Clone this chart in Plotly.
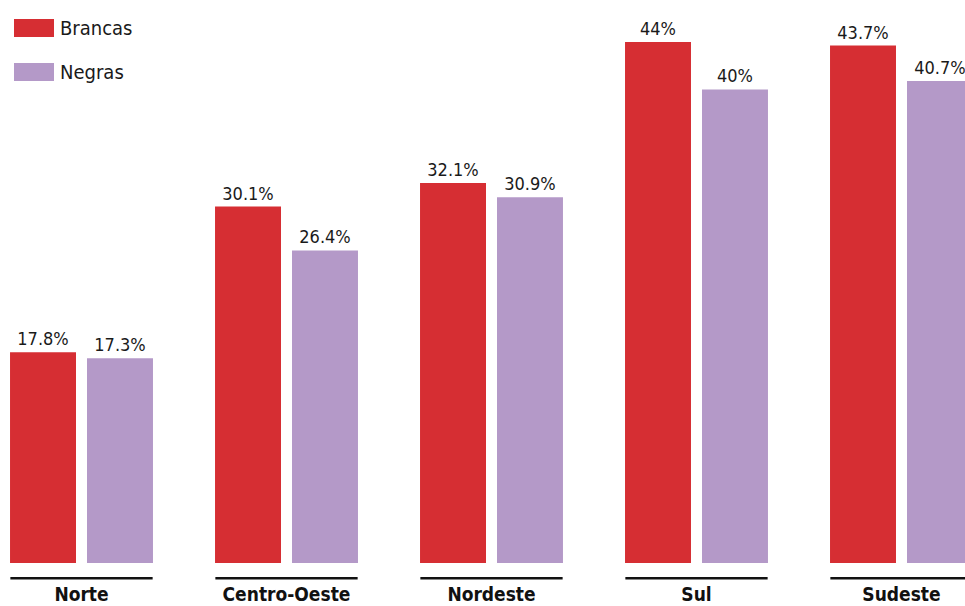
import plotly.graph_objects as go

regions = ["Norte", "Centro-Oeste", "Nordeste", "Sul", "Sudeste"]
brancas = [17.8, 30.1, 32.1, 44.0, 43.7]
negras = [17.3, 26.4, 30.9, 40.0, 40.7]
brancas_labels = ["17.8%", "30.1%", "32.1%", "44%", "43.7%"]
negras_labels = ["17.3%", "26.4%", "30.9%", "40%", "40.7%"]
series_names = ["Brancas", "Negras"]
colors = ["#D62E33", "#B499C8"]

FONT = "DejaVu Sans Condensed"
xs = list(range(len(regions)))

fig = go.Figure()
for name, vals, labels, col in [(series_names[0], brancas, brancas_labels, colors[0]),
                                (series_names[1], negras, negras_labels, colors[1])]:
    fig.add_trace(go.Bar(
        x=xs, y=vals, name=name, marker=dict(color=col, line=dict(width=0)),
        text=labels, textposition="outside", cliponaxis=False,
        textfont=dict(family=FONT, size=18, color="#1a1a1a"),
        showlegend=False, hoverinfo="skip",
    ))

# underline below each category
for i in xs:
    fig.add_shape(type="line", xref="x", yref="paper", x0=i - 0.347, x1=i + 0.347,
                  y0=-0.027, y1=-0.027, line=dict(color="#111111", width=2.5))

# custom legend
for k, (name, col) in enumerate(zip(series_names, colors)):
    yc = 1 - (28 + 44 * k) / 563
    fig.add_shape(type="rect", xref="paper", yref="paper",
                  x0=14 / 965, x1=54 / 965, y0=yc - 9 / 563, y1=yc + 9 / 563,
                  fillcolor=col, line=dict(width=0))
    fig.add_annotation(xref="paper", yref="paper", x=58 / 965, y=yc, text=name,
                       showarrow=False, xanchor="left", yanchor="middle",
                       font=dict(family=FONT, size=20, color="#1a1a1a"))

fig.update_layout(
    width=965, height=606,
    margin=dict(l=0, r=0, t=0, b=43),
    paper_bgcolor="white", plot_bgcolor="white",
    barmode="group", bargap=0.249, bargroupgap=0.143,
    xaxis=dict(tickmode="array", tickvals=xs,
               ticktext=["<b>%s</b>" % r for r in regions],
               range=[-0.3976, 4.3098], showgrid=False, zeroline=False,
               showline=False, ticks="outside", ticklen=14, automargin=False,
               tickcolor="rgba(0,0,0,0)",
               tickfont=dict(family=FONT, size=19, color="#111111")),
    yaxis=dict(range=[0, 47.55], visible=False, automargin=False),
)

fig.write_html("out.html")
